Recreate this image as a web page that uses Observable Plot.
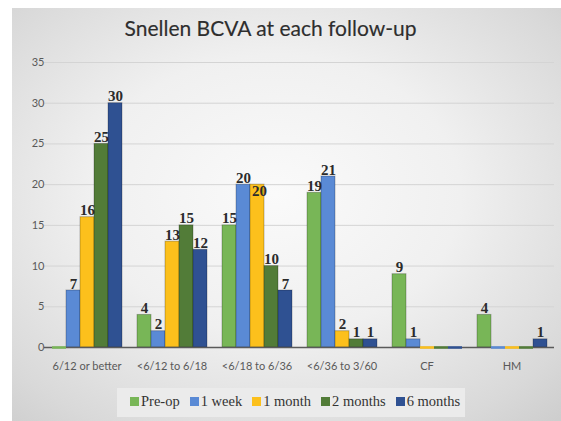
<!DOCTYPE html>
<html>
<head>
<meta charset="utf-8">
<script src="https://cdn.jsdelivr.net/npm/d3@7"></script>
<script src="https://cdn.jsdelivr.net/npm/@observablehq/plot@0.6"></script>
<style>
  html, body { margin: 0; padding: 0; background: #ffffff; width: 561px; height: 421px; overflow: hidden; }
  #bg { position: absolute; left: 12px; top: 8px; width: 549px; height: 413px;
        background: radial-gradient(ellipse 75% 75% at 48% 45%, #fafafa 0%, #f0f0f0 45%, #d9d9d9 85%, #cecece 100%); }
  #title { position: absolute; left: 0; top: 15px; width: 541px; text-align: center;
           font-family: Lato, "Open Sans", sans-serif; font-size: 21px; color: #2e2e2e; -webkit-text-stroke: 0.15px #2e2e2e; }
  #chart { position: absolute; left: 0; top: 50px; }
  #legendbox { position: absolute; left: 117px; top: 388px; width: 348px; height: 29px; background: #ebebeb; }
  #legend { position: absolute; left: 130px; top: 385px; }
  .lg-swatch { margin-right: 10px !important; }
  .lg-swatch > svg { margin-right: 2px !important; }
</style>
</head>
<body>
<div id="bg"></div>
<div id="title">Snellen BCVA at each follow-up</div>
<div id="chart"></div>
<div id="legendbox"></div>
<div id="legend"></div>
<script>
const categories = ["6/12 or better", "<6/12 to 6/18", "<6/18 to 6/36", "<6/36 to 3/60", "CF", "HM"];
const series = ["Pre-op", "1 week", "1 month", "2 months", "6 months"];
const preOp   = [0, 4, 15, 19, 9, 4];
const week1   = [7, 2, 20, 21, 1, 0];
const month1  = [16, 13, 20, 2, 0, 0];
const months2 = [25, 15, 10, 1, 0, 0];
const months6 = [30, 12, 7, 1, 0, 1];
const yTicks = [0, 5, 10, 15, 20, 25, 30, 35];
const colors = ["#78b657", "#5a8ad5", "#fcc01c", "#527c38", "#2f5192"];

const valuesBySeries = [preOp, week1, month1, months2, months6];
const data = [];
categories.forEach((c, i) => {
  series.forEach((s, j) => data.push({cat: c, series: s, v: valuesBySeries[j][i]}));
});
const nonzero = data.filter(d => d.v > 0);
const zero = data.filter(d => d.v === 0);
// the label that sits inside its bar in the reference (it collides with its neighbour)
const isInside = d => d.cat === "<6/18 to 6/36" && d.series === "1 month";

const labelFont = {fontFamily: "'Liberation Serif', 'Times New Roman', serif", fontWeight: "bold", fontSize: 15, fill: "#2b2b2b"};

const plot = Plot.plot({
  width: 561,
  height: 330,
  marginTop: 12,
  marginBottom: 33,
  marginLeft: 43,
  marginRight: 6,
  style: {background: "transparent", fontFamily: "Lato, 'Open Sans', sans-serif", fontSize: "11px", color: "#595959"},
  fx: {domain: categories, paddingInner: 0.16, paddingOuter: 0.08, label: null, axis: null},
  x: {domain: series, padding: 0, axis: null},
  y: {domain: [0, 35], label: null, axis: null},
  color: {domain: series, range: colors},
  marks: [
    Plot.ruleY(yTicks.filter(t => t > 0), {stroke: "#d4d4d4", strokeWidth: 1, insetLeft: -7, insetRight: -7}),
    Plot.barY(nonzero, {fx: "cat", x: "series", y: "v", fill: "series", stroke: "#000", strokeOpacity: 0.25, strokeWidth: 1}),
    Plot.ruleY([0], {stroke: "#5a5a5a", strokeWidth: 1.3, insetLeft: -7, insetRight: -7}),
    Plot.tickY(zero, {fx: "cat", x: "series", y: "v", stroke: "series", strokeWidth: 2.5}),
    Plot.axisY(yTicks, {tickSize: 0, tickPadding: 7, label: null, fill: "#595959", fontSize: 11}),
    Plot.axisFx({anchor: "bottom", tickSize: 0, tickPadding: 15, label: null, fill: "#595959", fontSize: 11}),
    Plot.text(nonzero.filter(d => !isInside(d)), {fx: "cat", x: "series", y: "v", text: d => String(d.v), lineAnchor: "bottom", dy: -2, ...labelFont}),
    Plot.text(nonzero.filter(isInside), {fx: "cat", x: "series", y: "v", text: d => String(d.v), lineAnchor: "top", dy: 1, dx: 2, ...labelFont})
  ]
});
document.getElementById("chart").appendChild(plot);

const legend = Plot.legend({
  color: {domain: series, range: colors},
  legend: "swatches",
  swatchSize: 9,
  className: "lg",
  style: {fontFamily: "'Liberation Serif', 'Times New Roman', serif", fontSize: "14.5px", color: "#333333", background: "transparent"}
});
document.getElementById("legend").appendChild(legend);
</script>
</body>
</html>
